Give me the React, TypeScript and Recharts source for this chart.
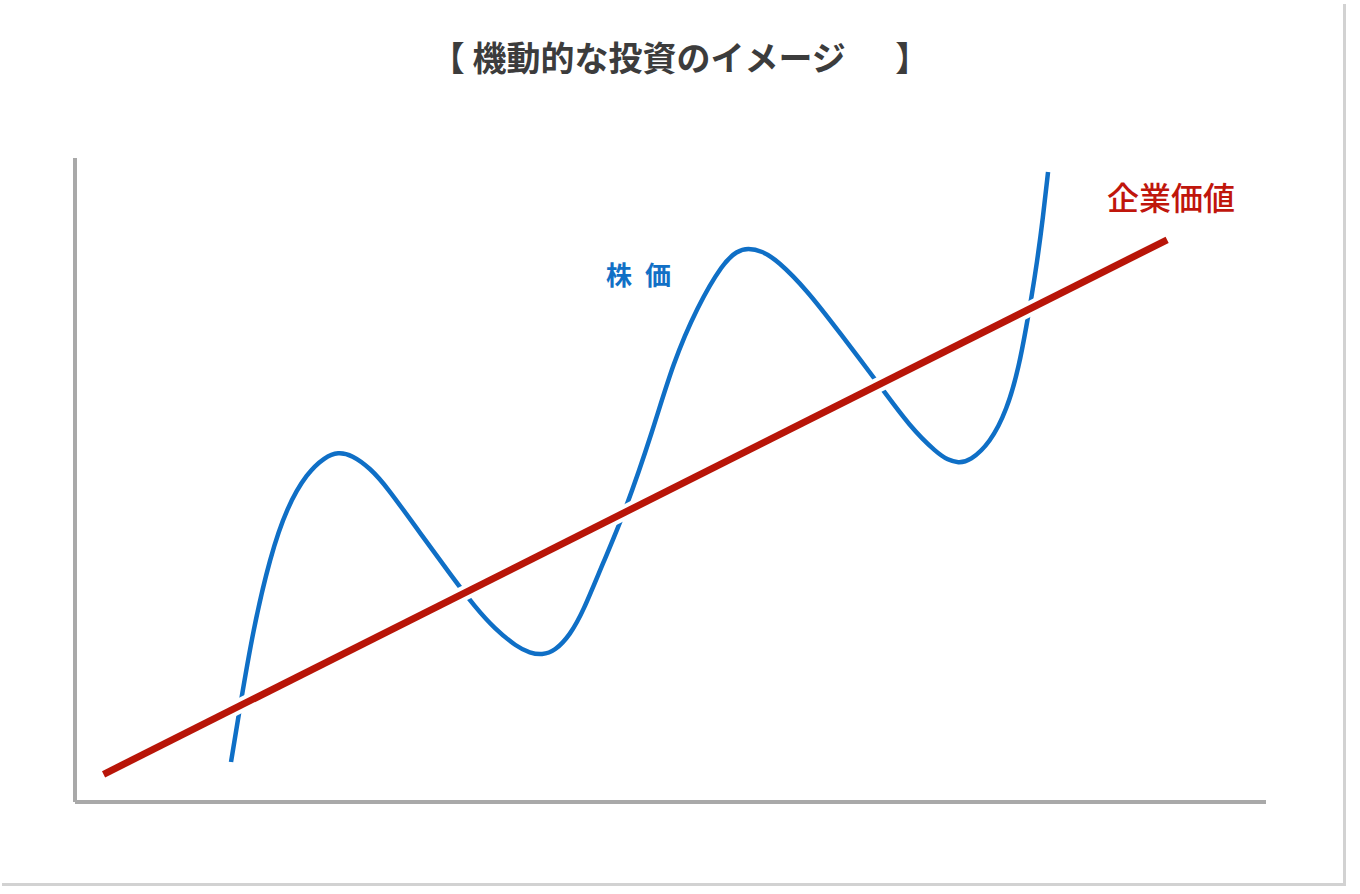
import React from "react";
import { LineChart, Line, XAxis, YAxis } from "recharts";

// Stock price curve (x, y in 0–100 chart units)
const priceX = [13.1, 13.85, 14.95, 16.37, 17.8, 19.48, 20.99, 22.08, 23.26, 24.77, 26.2, 28.97, 31.74, 33.59, 35.26, 37.11, 38.2, 39.21, 40.3, 41.56, 42.65, 44.33, 46.18, 48.53, 50.21, 52.23, 54.41, 55.58, 56.51, 57.68, 58.94, 61.46, 64.23, 67.42, 70.11, 72.38, 73.3, 74.14, 75.15, 76.83, 78.25, 79.26, 79.93, 80.27, 80.77, 81.28, 81.7];
const priceY = [6.21, 14.75, 26.71, 38.04, 45.81, 51.09, 53.57, 54.35, 53.88, 51.86, 48.91, 41.77, 34.78, 30.28, 26.86, 24.07, 23.14, 22.83, 23.45, 25.93, 29.5, 37.11, 45.03, 57.76, 68.17, 76.86, 83.7, 85.56, 86.02, 85.56, 84.16, 79.5, 72.83, 65.06, 58.23, 54.19, 53.11, 52.64, 52.95, 55.75, 60.87, 67.55, 74.38, 77.95, 83.7, 90.84, 97.83];

// Corporate value line
const valueX = [2.4, 91.7];
const valueY = [4.3, 87.3];

const titleText = "【 機動的な投資のイメージ　  】";
const priceLabel = "株 価";
const valueLabel = "企業価値";

const priceData = priceX.map((x, i) => ({ x, y: priceY[i] }));
const valueData = valueX.map((x, i) => ({ x, y: valueY[i] }));

const FONT = '"Noto Sans CJK JP", "Noto Sans", sans-serif';

export default function App() {
  return (
    <div style={{ position: "fixed", left: 0, top: 0, width: 1360, height: 894, background: "#fff", fontFamily: FONT }}>
      <div
        style={{
          position: "absolute",
          left: 2,
          top: 4,
          width: 1341,
          height: 879,
          borderRight: "3px solid #d2d2d2",
          borderBottom: "3px solid #d2d2d2",
        }}
      />
      <div
        style={{
          position: "absolute",
          left: 0,
          top: 40,
          width: 1360,
          textAlign: "center",
          fontSize: 34,
          lineHeight: "34px",
          fontWeight: 700,
          color: "#3c3c3c",
          whiteSpace: "pre",
        }}
      >
        {titleText}
      </div>
      <div style={{ position: "absolute", left: 0, top: 0 }}>
        <LineChart width={1360} height={894} margin={{ top: 158, right: 94, bottom: 82, left: 65 }}>
          <XAxis
            type="number"
            dataKey="x"
            domain={[0, 100]}
            height={10}
            tick={false}
            tickLine={false}
            axisLine={{ stroke: "#a9a9a9", strokeWidth: 4 }}
            allowDataOverflow
          />
          <YAxis
            type="number"
            dataKey="y"
            domain={[0, 100]}
            width={10}
            tick={false}
            tickLine={false}
            axisLine={{ stroke: "#a9a9a9", strokeWidth: 4 }}
            allowDataOverflow
          />
          <Line
            data={priceData}
            dataKey="y"
            type="basis"
            stroke="#0f6fc6"
            strokeWidth={4.5}
            dot={false}
            activeDot={false}
            isAnimationActive={false}
          />
          <Line
            data={valueData}
            dataKey="y"
            type="linear"
            stroke="#ffffff"
            strokeWidth={15}
            dot={false}
            activeDot={false}
            isAnimationActive={false}
          />
          <Line
            data={valueData}
            dataKey="y"
            type="linear"
            stroke="#b81508"
            strokeWidth={7}
            dot={false}
            activeDot={false}
            isAnimationActive={false}
          />
        </LineChart>
      </div>
      <div
        style={{
          position: "absolute",
          left: 606,
          top: 261,
          fontSize: 26,
          lineHeight: "26px",
          fontWeight: 700,
          letterSpacing: 3.5,
          color: "#1170c6",
          whiteSpace: "pre",
        }}
      >
        {priceLabel}
      </div>
      <div
        style={{
          position: "absolute",
          left: 1107,
          top: 180,
          fontSize: 32,
          lineHeight: "32px",
          fontWeight: 500,
          color: "#c0160c",
          whiteSpace: "pre",
        }}
      >
        {valueLabel}
      </div>
    </div>
  );
}
